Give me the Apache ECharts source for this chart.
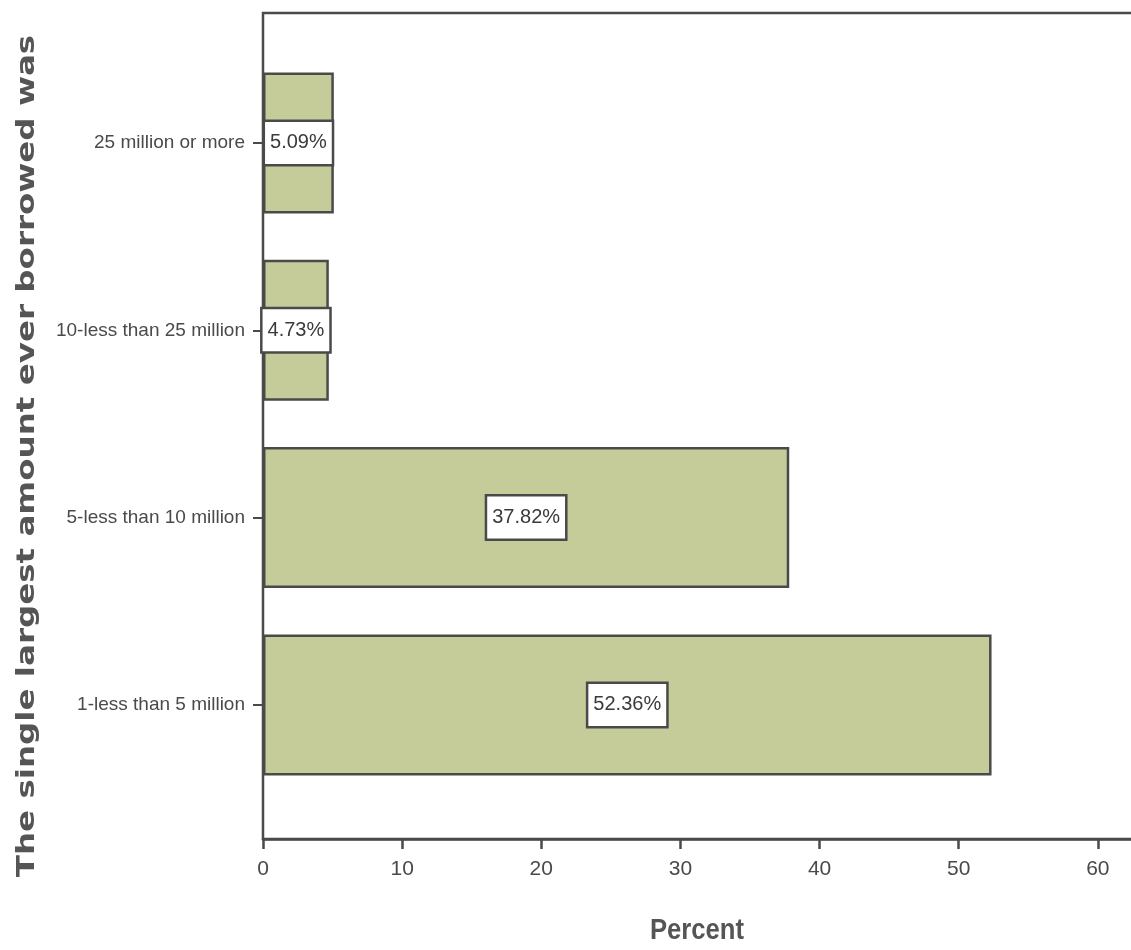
<!DOCTYPE html>
<html>
<head>
<meta charset="utf-8">
<title>The single largest amount ever borrowed</title>
<script src="https://cdn.jsdelivr.net/npm/echarts@6/dist/echarts.min.js"></script>
<style>
  html, body { margin: 0; padding: 0; background: #ffffff; overflow: hidden; }
  /* canvas runs past the right edge so the plot frame stays open on that side */
  #chart { width: 1260px; height: 950px; }
</style>
</head>
<body>
<div id="chart"></div>
<script>
// Categories listed bottom to top (ECharts category y-axis grows upward)
const categories = [
  '1-less than 5 million',
  '5-less than 10 million',
  '10-less than 25 million',
  '25 million or more'
];
const percentValues = [52.36, 37.82, 4.73, 5.09];
const xTickMax = 60;

const narrow = "'Liberation Sans Narrow', 'Arial Narrow', 'Liberation Sans', Arial, sans-serif";
const ink = '#4a4a4a';

const chart = echarts.init(document.getElementById('chart'), null, { renderer: 'canvas' });

chart.setOption({
  backgroundColor: '#ffffff',
  animation: false,
  grid: [
    // outer frame with the percent axis
    { left: 263, top: 13, width: 974, height: 826, show: true,
      borderColor: ink, borderWidth: 2.5, backgroundColor: 'transparent' },
    // inner band holding the bars
    { left: 263, top: 49.3, width: 974, height: 749.3 }
  ],
  xAxis: [
    {
      gridIndex: 0, type: 'value', min: 0, max: 70, interval: 10,
      axisLine: { show: true, lineStyle: { color: ink, width: 2.5 } },
      axisTick: { show: true, length: 10, lineStyle: { color: ink, width: 2.5 } },
      splitLine: { show: false },
      axisLabel: {
        color: ink, fontFamily: narrow, fontSize: 21, margin: 20,
        formatter: v => (v <= xTickMax ? String(v) : '')
      }
    },
    { gridIndex: 1, type: 'value', min: 0, max: 70, show: false }
  ],
  yAxis: [
    { gridIndex: 0, type: 'value', show: false },
    {
      gridIndex: 1, type: 'category', data: categories,
      axisLine: { show: false },
      axisTick: { show: true, alignWithLabel: true, length: 10, lineStyle: { color: ink, width: 2 } },
      axisLabel: { color: ink, fontFamily: narrow, fontSize: 19, margin: 18 }
    }
  ],
  series: [{
    type: 'bar',
    xAxisIndex: 1, yAxisIndex: 1,
    data: percentValues,
    barWidth: 141,
    itemStyle: { color: '#c5cc99', borderColor: ink, borderWidth: 2.5 },
    label: {
      show: true, position: 'inside',
      formatter: p => p.value.toFixed(2) + '%',
      color: '#3a3a3a', fontFamily: narrow, fontSize: 20,
      backgroundColor: '#ffffff', borderColor: ink, borderWidth: 2.5,
      padding: [11, 5, 11, 5]
    }
  }],
  graphic: [
    {
      type: 'text', x: 27, y: 456, rotation: Math.PI / 2, scaleX: 1.3,
      style: {
        text: 'The single largest amount ever borrowed was',
        font: "bold 25px 'DejaVu Sans', Verdana, sans-serif",
        fill: '#555555', textAlign: 'center', textVerticalAlign: 'middle'
      }
    },
    {
      type: 'text', x: 697, y: 931, scaleX: 0.95, scaleY: 1.12,
      style: {
        text: 'Percent',
        font: "bold 27px " + narrow,
        fill: '#555555', textAlign: 'center', textVerticalAlign: 'middle'
      }
    }
  ]
});
</script>
</body>
</html>
